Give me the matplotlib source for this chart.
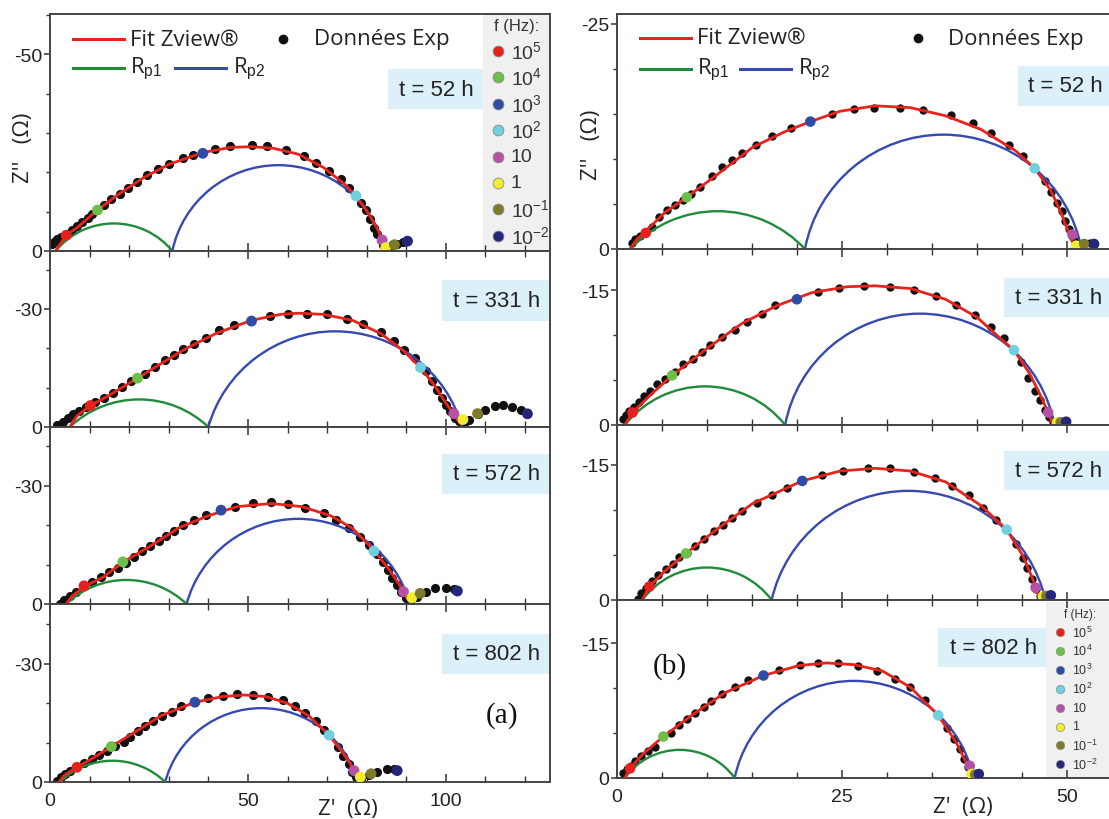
import numpy as np
import matplotlib
matplotlib.use('Agg')
import matplotlib.pyplot as plt
from matplotlib.patches import Arc, Rectangle
from matplotlib.lines import Line2D
from matplotlib.ticker import FixedLocator, MultipleLocator

plt.rcParams['font.family'] = ['Liberation Sans', 'DejaVu Sans']
plt.rcParams['axes.unicode_minus'] = False
plt.rcParams['mathtext.fontset'] = 'custom'
plt.rcParams['mathtext.rm'] = 'Liberation Sans'
plt.rcParams['mathtext.it'] = 'Liberation Sans:italic'
plt.rcParams['mathtext.bf'] = 'Liberation Sans:bold'

W, H = 1109, 820
SANS = ['Open Sans', 'DejaVu Sans']

RED, GREEN, BLUE = '#e8231c', '#1f8b3b', '#3549b0'
freq_colors = ['#e8201c', '#6cc04a', '#2e4ca6', '#6fd0e0', '#b552a6', '#f2ec2e', '#7d7a2c', '#24267a']
freq_labels = ['10$^{5}$', '10$^{4}$', '10$^{3}$', '10$^{2}$', '10', '1', '10$^{-1}$', '10$^{-2}$']
times = ['t = 52 h', 't = 331 h', 't = 572 h', 't = 802 h']

# ---- (a) left column : Z' and -Z'' in ohm ----
a52_dx = [0.45, 1.1, 1.8, 2.7, 4.1, 5.5, 6.8, 8.0, 9.6, 10.7, 13.6, 15.5, 17.7, 19.8, 22.1, 24.5, 27.3, 30.0, 33.5, 36.2,
          41.6, 45.5, 50.9, 54.7, 59.7, 64.1, 67.3, 70.5, 73.5, 75.5, 78.6, 79.8, 80.9, 81.8, 82.7, 83.5, 84.1, 85.5,
          86.5, 87.7, 89.1]
a52_dy = [1.7, 2.4, 3.0, 3.6, 4.2, 5.3, 6.3, 7.3, 8.5, 9.3, 11.7, 13.1, 14.6, 16.1, 17.5, 19.2, 20.8, 22.1, 23.6, 24.4,
          26.0, 26.7, 26.9, 26.7, 25.7, 24.2, 22.4, 20.3, 18.2, 16.1, 12.3, 10.3, 8.1, 5.9, 4.2, 2.7, 1.5, 1.1,
          1.4, 1.9, 2.4]
a52_fx = [1.4, 2.7, 4.1, 6.8, 12.0, 17.3, 23.6, 30.0, 38.6, 45.5, 50.9, 56.4, 62.7, 69.1, 74.5, 77.3, 80.0, 82.3, 83.6, 84.4]
a52_fy = [0, 1.9, 4.0, 5.9, 10.4, 14.4, 18.6, 22.0, 25.0, 26.3, 26.5, 26.1, 24.6, 21.2, 16.9, 14.0, 10.2, 6.4, 3.8, 1.3]
a52_qx = [4.1, 12.0, 38.6, 77.3, 83.9, 84.8, 87.0, 90.3]
a52_qy = [4.0, 10.4, 24.8, 14.0, 2.8, 0.85, 1.6, 2.5]
a52_rp1 = (1.4, 30.9, 7.0)
a52_rp2 = (30.9, 84.5, 21.8)

a331_dx = [1.8, 3.2, 4.5, 5.9, 7.3, 9.1, 11.4, 13.6, 15.9, 18.2, 20.5, 24.1, 26.4, 29.1, 31.4, 33.6, 36.4, 39.3, 42.7,
           46.4, 55.5, 60.0, 65.0, 70.0, 75.0, 79.1, 83.6, 86.8, 89.5, 92.3, 95.0, 96.4, 97.7, 98.9, 100.0, 101.1,
           102.3, 103.2, 104.5, 105.9, 108.2, 110.0, 112.3, 114.5, 116.8, 119.1]
a331_dy = [0.4, 1.3, 2.4, 3.2, 4.0, 5.0, 6.3, 7.4, 8.6, 10.1, 11.6, 13.5, 15.3, 17.0, 18.3, 19.7, 21.0, 22.7, 24.6,
           25.8, 28.2, 28.8, 28.8, 28.6, 27.5, 26.1, 24.1, 21.9, 19.5, 17.4, 14.1, 11.6, 9.5, 7.4, 5.7, 4.0,
           2.4, 1.5, 1.1, 1.8, 3.2, 4.4, 5.3, 5.5, 5.1, 4.4]
a331_fx = [5.0, 6.8, 10.2, 14.5, 22.1, 28.2, 34.5, 41.8, 50.9, 58.2, 62.7, 69.1, 76.4, 83.6, 89.1, 93.6, 97.3, 100.0,
           102.0, 103.6]
a331_fy = [0, 2.8, 5.45, 7.8, 12.4, 16.2, 20.0, 23.7, 27.1, 28.6, 28.9, 28.6, 27.1, 23.7, 19.5, 15.1, 10.3, 6.1, 3.2, 0.9]
a331_qx = [10.2, 22.1, 50.9, 93.6, 102.0, 104.3, 108.0, 120.6]
a331_qy = [5.45, 12.4, 26.9, 15.1, 3.4, 1.9, 3.4, 3.35]
a331_rp1 = (5.0, 40.0, 7.0)
a331_rp2 = (40.0, 104.1, 24.3)

a572_dx = [2.5, 3.6, 5.0, 6.5, 10.7, 12.9, 15.0, 17.3, 19.1, 21.1, 23.2, 25.3, 27.5, 29.3, 31.4, 33.6, 36.4, 39.5, 46.8,
           51.4, 55.9, 60.0, 64.5, 69.1, 72.3, 75.5, 78.2, 80.5, 82.7, 84.1, 85.5, 86.5, 87.7, 88.6, 89.8, 90.9,
           92.7, 95.0, 97.3, 100.0, 102.0]
a572_dy = [0, 1.0, 2.1, 3.1, 5.7, 6.9, 8.0, 9.2, 10.3, 12.0, 13.4, 14.8, 16.0, 17.3, 18.5, 20.0, 21.3, 22.7, 24.7,
           25.5, 25.8, 25.3, 24.3, 23.0, 21.3, 19.4, 17.1, 15.0, 12.6, 10.7, 8.6, 6.5, 4.8, 3.1, 1.4, 0.8,
           1.9, 3.1, 4.0, 4.1, 3.7]
a572_fx = [4.1, 5.5, 8.6, 13.6, 18.4, 25.5, 32.7, 40.0, 47.3, 55.9, 63.6, 70.9, 76.4, 81.8, 85.5, 88.2, 90.2]
a572_fy = [0, 1.9, 4.4, 6.9, 10.6, 14.8, 19.4, 22.4, 24.7, 25.5, 24.7, 22.4, 19.2, 13.7, 9.0, 5.0, 1.4]
a572_qx = [8.6, 18.4, 43.2, 81.8, 89.3, 91.4, 93.5, 102.9]
a572_qy = [4.6, 10.7, 23.8, 13.4, 3.1, 1.6, 2.7, 3.3]
a572_rp1 = (4.1, 34.5, 6.1)
a572_rp2 = (34.5, 90.9, 21.6)

a802_dx = [1.8, 2.7, 3.8, 5.0, 8.6, 10.5, 12.3, 14.4, 16.5, 18.6, 20.2, 22.3, 24.1, 25.9, 28.2, 30.7, 33.2, 40.0, 43.6,
           47.3, 51.4, 55.0, 58.8, 61.8, 64.5, 67.1, 69.1, 72.7, 74.1, 75.5, 76.4, 77.3, 78.6, 80.5, 82.7, 85.0, 86.8]
a802_dy = [0.2, 1.25, 2.1, 2.9, 4.8, 5.8, 6.8, 7.9, 9.2, 10.25, 11.4, 12.9, 14.2, 15.4, 16.7, 17.9, 19.2, 21.4, 21.9,
           22.25, 22.1, 21.7, 20.8, 19.2, 17.5, 15.4, 13.3, 8.9, 6.7, 4.6, 2.5, 1.25, 0.8, 1.7, 2.5, 3.3, 3.3]
a802_fx = [2.3, 3.6, 6.8, 10.9, 15.5, 21.8, 28.2, 36.6, 43.6, 49.1, 54.5, 60.0, 65.5, 70.5, 73.6, 75.9, 77.5]
a802_fy = [0, 1.7, 3.75, 6.1, 9.0, 12.9, 16.9, 20.25, 21.7, 22.1, 21.7, 20.0, 16.7, 11.9, 7.9, 4.6, 1.25]
a802_qx = [6.8, 15.5, 36.6, 70.5, 76.8, 78.4, 81.1, 87.7]
a802_qy = [3.75, 9.0, 20.25, 11.9, 2.9, 1.25, 2.1, 2.9]
a802_rp1 = (2.5, 29.1, 5.4)
a802_rp2 = (29.1, 77.7, 18.75)

# ---- (b) right column ----
b52_dx = [1.67, 2.06, 2.57, 3.89, 4.71, 5.56, 6.46, 7.32, 8.29, 9.26, 10.6, 11.7, 12.8, 13.9, 15.5, 17.2, 19.4, 23.9,
          26.3, 28.6, 31.4, 34.0, 37.1, 39.6, 41.6, 43.6, 45.1, 47.5, 48.2, 48.9, 49.4, 49.8, 50.2, 50.6, 50.9,
          51.3, 51.9, 52.5]
b52_dy = [0.63, 1.11, 1.48, 2.48, 3.52, 4.33, 4.93, 5.44, 6.11, 6.85, 8.15, 9.07, 9.89, 10.7, 11.6, 12.5, 13.4, 15.0,
          15.6, 15.7, 15.7, 15.4, 14.9, 14.0, 12.9, 11.6, 10.3, 7.6, 6.3, 5.1, 4.2, 3.15, 2.2, 1.48, 0.85,
          0.48, 0.63, 0.67]
b52_fx = [1.48, 2.26, 3.23, 5.37, 7.78, 11.2, 15.1, 18.6, 21.5, 24.8, 28.7, 32.6, 36.5, 40.4, 44.3, 46.4, 48.2, 49.3,
          50.1, 50.5]
b52_fy = [0, 1.1, 2.0, 4.07, 5.74, 8.3, 11.3, 13.0, 14.15, 15.3, 15.9, 15.7, 14.8, 13.3, 10.9, 8.96, 6.5, 4.1, 2.0, 1.0]
b52_qx = [3.23, 7.78, 21.5, 46.4, 50.6, 51.0, 51.9, 53.0]
b52_qy = [1.78, 5.74, 14.15, 8.96, 1.6, 0.37, 0.56, 0.56]
b52_rp1 = (1.5, 20.9, 4.2)
b52_rp2 = (20.9, 51.6, 12.7)

b331_dx = [0.7, 1.01, 1.4, 1.95, 2.45, 3.04, 3.74, 4.51, 5.37, 6.46, 7.39, 8.48, 9.46, 10.35, 11.7, 13.1, 14.5, 16.1,
           17.6, 22.3, 24.7, 27.5, 30.3, 33.0, 35.5, 37.7, 39.8, 41.6, 43.0, 44.9, 45.7, 46.4, 47.0, 47.6, 48.0,
           48.4, 48.9, 49.4]
b331_dy = [0.66, 1.13, 1.57, 2.05, 2.6, 3.22, 3.84, 4.57, 5.16, 5.89, 6.77, 7.35, 8.16, 8.89, 9.8, 10.6, 11.45, 12.4,
           13.4, 14.8, 15.3, 15.5, 15.4, 15.0, 14.4, 13.4, 12.2, 10.9, 9.7, 7.06, 5.23, 3.84, 2.74, 1.65, 0.84,
           0.29, 0.29, 0.29]
b331_fx = [0.9, 1.75, 3.81, 6.15, 10.0, 13.9, 17.8, 21.7, 25.6, 28.7, 32.6, 36.5, 40.0, 42.7, 44.1, 45.8, 47.0, 47.9,
           48.4]
b331_fy = [0, 1.39, 3.4, 5.52, 8.5, 11.3, 13.3, 14.75, 15.4, 15.5, 15.2, 14.0, 12.0, 9.55, 8.34, 5.8, 3.4, 1.39, 0.1]
b331_qx = [1.75, 6.15, 20.0, 44.1, 47.9, 48.9, 49.3, 49.9]
b331_qy = [1.39, 5.52, 14.0, 8.34, 1.39, 0.3, 0.3, 0.37]
b331_rp1 = (0.9, 18.7, 4.3)
b331_rp2 = (18.7, 48.6, 12.4)

b572_dx = [2.33, 2.72, 3.23, 3.89, 4.59, 5.45, 6.23, 6.93, 7.78, 8.68, 9.65, 10.8, 11.8, 12.8, 13.9, 15.6, 17.2, 18.9,
           22.8, 25.1, 27.9, 30.3, 33.0, 35.3, 37.2, 39.1, 40.7, 42.1, 44.3, 45.1, 45.6, 46.1, 46.6, 47.0, 47.6]
b572_dy = [0.15, 0.82, 1.37, 2.12, 2.75, 3.42, 3.97, 4.72, 5.2, 5.94, 6.76, 7.61, 8.32, 9.06, 9.91, 10.8, 11.6, 12.4,
           13.9, 14.3, 14.6, 14.6, 14.2, 13.5, 12.6, 11.6, 10.2, 8.9, 6.2, 4.7, 3.6, 2.3, 1.26, 0.45, 0.37]
b572_fx = [2.84, 3.62, 5.37, 7.7, 11.2, 15.1, 20.6, 24.8, 28.7, 32.6, 36.5, 40.4, 43.3, 45.1, 46.2, 47.0]
b572_fy = [0, 1.49, 3.23, 5.16, 7.9, 10.7, 13.2, 14.3, 14.6, 14.3, 13.1, 10.5, 7.8, 4.9, 2.3, 0.26]
b572_qx = [3.62, 7.7, 20.6, 43.3, 46.5, 47.3, 47.7, 48.2]
b572_qy = [1.49, 5.16, 13.2, 7.8, 1.37, 0.37, 0.45, 0.52]
b572_rp1 = (2.84, 17.2, 3.6)
b572_rp2 = (17.2, 47.6, 12.1)

b802_dx = [0.7, 1.09, 1.56, 2.06, 2.72, 3.42, 4.2, 6.07, 6.93, 7.78, 8.68, 9.65, 10.5, 11.7, 13.1, 14.6, 18.0, 20.3,
           22.4, 24.6, 26.8, 28.9, 30.9, 32.6, 34.2, 36.7, 37.5, 38.1, 38.6, 39.0]
b802_dy = [0.55, 1.0, 1.36, 1.92, 2.47, 3.02, 3.5, 5.05, 5.86, 6.52, 7.19, 7.92, 8.55, 9.36, 10.1, 10.95, 12.05, 12.6,
           12.8, 12.8, 12.5, 11.9, 11.0, 10.1, 8.7, 5.6, 4.3, 3.2, 2.1, 1.18]
b802_fx = [0.9, 1.48, 3.0, 5.18, 8.48, 12.0, 16.3, 20.2, 23.3, 26.4, 29.5, 32.6, 35.7, 37.7, 38.8, 39.4]
b802_fy = [0, 1.07, 2.76, 4.61, 7.08, 9.47, 11.4, 12.5, 12.8, 12.6, 11.9, 10.1, 6.97, 3.94, 1.73, 0.44]
b802_qx = [1.48, 5.18, 16.3, 35.7, 39.2, 39.4, 39.8, 40.2]
b802_qy = [1.07, 4.61, 11.4, 6.97, 1.36, 0.44, 0.37, 0.44]
b802_rp1 = (0.9, 13.1, 3.13)
b802_rp2 = (13.1, 39.6, 10.8)

a_sets = [
    (a52_dx, a52_dy, a52_fx, a52_fy, a52_qx, a52_qy, a52_rp1, a52_rp2),
    (a331_dx, a331_dy, a331_fx, a331_fy, a331_qx, a331_qy, a331_rp1, a331_rp2),
    (a572_dx, a572_dy, a572_fx, a572_fy, a572_qx, a572_qy, a572_rp1, a572_rp2),
    (a802_dx, a802_dy, a802_fx, a802_fy, a802_qx, a802_qy, a802_rp1, a802_rp2),
]
b_sets = [
    (b52_dx, b52_dy, b52_fx, b52_fy, b52_qx, b52_qy, b52_rp1, b52_rp2),
    (b331_dx, b331_dy, b331_fx, b331_fy, b331_qx, b331_qy, b331_rp1, b331_rp2),
    (b572_dx, b572_dy, b572_fx, b572_fy, b572_qx, b572_qy, b572_rp1, b572_rp2),
    (b802_dx, b802_dy, b802_fx, b802_fy, b802_qx, b802_qy, b802_rp1, b802_rp2),
]

fig = plt.figure(figsize=(W / 100, H / 100), dpi=100)


def fx(x):
    return x / W


def fy(y):
    return 1 - y / H


def box(ax, x0, y0, x1, y1, color):
    ax.add_patch(Rectangle((fx(x0), fy(y1)), (x1 - x0) / W, (y1 - y0) / H, transform=fig.transFigure,
                           facecolor=color, edgecolor='none', zorder=0.5))


def draw_panel(ax, data, ms_dot, ms_q):
    dx, dy, lx, ly, qx, qy, rp1, rp2 = data
    ax.plot(dx, [-v for v in dy], 'o', color='#111111', ms=ms_dot, mec='none', zorder=2)
    for (z0, z1, h), c in ((rp2, BLUE), (rp1, GREEN)):
        m = (z0 + z1) / 2
        w = (z1 - z0) / 2
        r = (w * w + h * h) / (2 * h)
        d = r - h
        phi = np.degrees(np.arcsin(d / r))
        ax.add_patch(Arc((m, d), 2 * r, 2 * r, theta1=180 + phi, theta2=360 - phi, color=c, lw=1.7, zorder=3))
    ax.plot(lx, [-v for v in ly], color=RED, lw=2.0, zorder=4, solid_joinstyle='round')
    ax.scatter(qx, [-v for v in qy], c=freq_colors, s=ms_q ** 2, edgecolors='none', zorder=5)


def style(ax, xmax, xmajors, xmin, ymax, ymaj, ymin, first, last):
    ax.set_xlim(0, xmax)
    ax.set_ylim(0, -ymax)
    ax.xaxis.set_major_locator(FixedLocator(xmajors))
    ax.xaxis.set_minor_locator(MultipleLocator(xmin))
    ax.yaxis.set_major_locator(FixedLocator([-ymaj, 0]))
    ax.yaxis.set_minor_locator(MultipleLocator(ymin))
    ax.set_yticklabels(['-%d' % ymaj, '0'])
    ax.tick_params(axis='x', which='both', direction='in', top=not first, bottom=True,
                   labelbottom=last, colors='#333333', labelcolor='#222222', labelsize=14, pad=7)
    ax.tick_params(axis='x', which='major', length=6, width=1.1)
    ax.tick_params(axis='x', which='minor', length=4, width=1.0)
    ax.tick_params(axis='y', which='both', direction='out', colors='#333333', labelcolor='#222222',
                   labelsize=14, pad=1.5)
    ax.tick_params(axis='y', which='major', length=4, width=1.1)
    ax.tick_params(axis='y', which='minor', length=3, width=1.0)
    if last:
        ax.set_xticklabels(['%d' % v for v in xmajors])
    for s in ax.spines.values():
        s.set_color('#444444')
        s.set_linewidth(1.4)


a_tops = [15, 252, 428, 605]
a_bots = [252, 428, 605, 783]
a_ymax = [60.2, 44.7, 44.9, 45.2]
a_ymaj = [50, 30, 30, 30]
b_tops = [15, 250, 426, 601]
b_bots = [250, 426, 601, 779]
b_ymax = [26.1, 19.6, 19.4, 19.8]
b_ymaj = [25, 15, 15, 15]

a_tbox = [(388, 70, 483, 110), (442, 281, 549, 322), (442, 455, 549, 495), (442, 635, 549, 675)]
b_tbox = [(1018, 67, 1109, 107), (1004, 279, 1109, 318), (1004, 452, 1109, 491), (938, 629, 1046, 668)]

axes_a, axes_b = [], []
for i in range(4):
    ax = fig.add_axes([fx(50), fy(a_bots[i]), 500 / W, (a_bots[i] - a_tops[i]) / H])
    draw_panel(ax, a_sets[i], 6.6, 7.8)
    style(ax, 126.3, [0, 50, 100], 10, a_ymax[i], a_ymaj[i], 10, i == 0, i == 3)
    x0, y0, x1, y1 = a_tbox[i]
    box(ax, x0, y0, x1, y1, '#dcf0fa')
    fig.text(fx((x0 + x1) / 2 + 1), fy((y0 + y1) / 2), times[i], fontsize=16, ha='center', va='center',
             color='#222222')
    axes_a.append(ax)

    ax = fig.add_axes([fx(616.7), fy(b_bots[i]), (1113 - 616.7) / W, (b_bots[i] - b_tops[i]) / H])
    draw_panel(ax, b_sets[i], 6.0, 7.6)
    style(ax, 55.1, [0, 25, 50], 5, b_ymax[i], b_ymaj[i], 5, i == 0, i == 3)
    x0, y0, x1, y1 = b_tbox[i]
    box(ax, x0, y0, x1, y1, '#dcf0fa')
    fig.text(fx((x0 + x1) / 2 + 2), fy((y0 + y1) / 2), times[i], fontsize=16, ha='center', va='center',
             color='#222222')
    axes_b.append(ax)

# frequency legends (grey panels)
box(axes_a[0], 483, 15, 549, 252, '#f0f0f0')
fig.text(fx(517), fy(26), 'f (Hz):', fontsize=12, ha='center', va='center', color='#333333')
for k in range(8):
    yy = 52 + 26.4 * k
    fig.add_artist(Line2D([fx(498)], [fy(yy)], marker='o', ms=7.8, mfc=freq_colors[k], mec='#8a8a8a', mew=0.6,
                          transform=fig.transFigure))
    fig.text(fx(511), fy(yy), freq_labels[k], fontsize=14, ha='left', va='center', color='#333333')

box(axes_b[3], 1046, 603, 1112, 779, '#f0f0f0')
fig.text(fx(1080), fy(615), 'f (Hz):', fontsize=8.5, ha='center', va='center', color='#333333')
for k in range(8):
    yy = 633 + 18.9 * k
    fig.add_artist(Line2D([fx(1060)], [fy(yy)], marker='o', ms=6, mfc=freq_colors[k], mec='#8a8a8a', mew=0.5,
                          transform=fig.transFigure))
    fig.text(fx(1072), fy(yy), freq_labels[k], fontsize=9, ha='left', va='center', color='#333333')


# legends for fit / data / Rp1 / Rp2
def legend(x_line, x_dot, x_txt2, x_blue, y1, y2):
    for xa, yy, c in ((x_line, y1, RED), (x_line, y2, GREEN), (x_blue, y2, BLUE)):
        fig.add_artist(Line2D([fx(xa), fx(xa + 51)], [fy(yy)] * 2, color=c, lw=2.2, transform=fig.transFigure))
    fig.text(fx(x_line + 57), fy(y1), 'Fit Zview®', fontsize=16, family=SANS, ha='left', va='center',
             color='#222222')
    fig.add_artist(Line2D([fx(x_dot)], [fy(y1)], marker='o', ms=6, color='#111111', transform=fig.transFigure))
    fig.text(fx(x_txt2), fy(y1), 'Données Exp', fontsize=16, family=SANS, ha='left', va='center',
             color='#222222')
    fig.text(fx(x_line + 57), fy(y2), r'R$_{\mathrm{p1}}$', fontsize=16, family=SANS, ha='left', va='center',
             color='#222222')
    fig.text(fx(x_blue + 58), fy(y2), r'R$_{\mathrm{p2}}$', fontsize=16, family=SANS, ha='left', va='center',
             color='#222222')


legend(73, 283, 314, 175, 40, 69)
legend(640, 918, 948, 740, 39, 70)

# axis labels
fig.text(fx(24), fy(148), "Z''   (Ω)", fontsize=16, family=SANS, rotation=90, ha='center', va='center',
         color='#222222')
fig.text(fx(592), fy(145), "Z''   (Ω)", fontsize=16, family=SANS, rotation=90, ha='center', va='center',
         color='#222222')
fig.text(fx(348), fy(810), "Z'  (Ω)", fontsize=16, family=SANS, ha='center', va='center', color='#222222')
fig.text(fx(963), fy(808), "Z'  (Ω)", fontsize=16, family=SANS, ha='center', va='center', color='#222222')

fig.text(fx(502), fy(716), '(a)', fontsize=21, family=['Liberation Serif', 'DejaVu Serif'], ha='center',
         va='center', color='#111111')
fig.text(fx(670), fy(667), '(b)', fontsize=21, family=['Liberation Serif', 'DejaVu Serif'], ha='center',
         va='center', color='#111111')

fig.savefig('out.png', dpi=100)
